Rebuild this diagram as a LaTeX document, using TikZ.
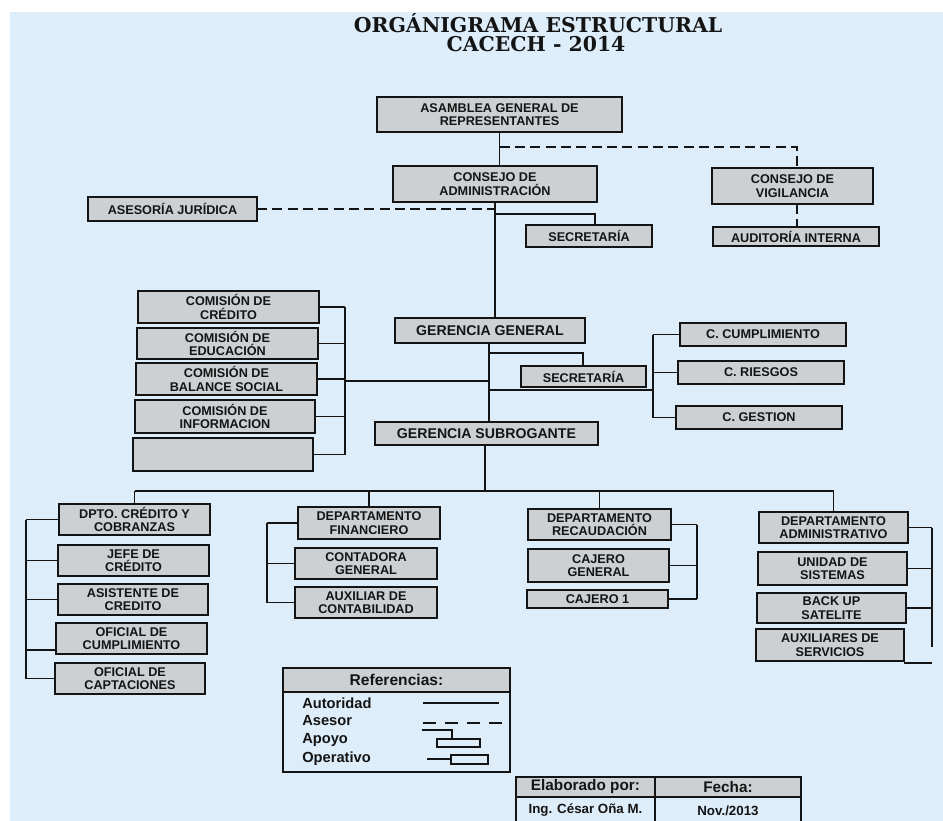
\documentclass[tikz,border=0pt]{standalone}
\usepackage{fontspec}
\setmainfont{Liberation Sans}
\newfontfamily\titlefont{DejaVu Serif}
\usetikzlibrary{calc}
\definecolor{bg}{RGB}{222,237,250}
\definecolor{boxgray}{RGB}{204,208,211}
\definecolor{ink}{RGB}{20,20,20}
\tikzset{
 box/.style={draw=ink, line width=1.3pt, fill=boxgray, inner sep=0pt, outer sep=0pt, align=center, text=ink, font=\fontsize{9.5}{10}\selectfont\bfseries},
 bigbox/.style={box, font=\fontsize{10.6}{11}\selectfont\bfseries},
 plainbox/.style={box, fill=none},
 auth/.style={draw=ink, line width=1.3pt},
 asesor/.style={draw=ink, line width=1.3pt, dash pattern=on 7.5pt off 4pt},
 legtext/.style={anchor=west, inner sep=0pt, text=ink, font=\fontsize{11}{12}\selectfont\bfseries},
 titletext/.style={anchor=base, inner sep=0pt, text=ink, font=\titlefont\bfseries\fontsize{15.3}{16}\selectfont},
}
\newcommand\bx[7][box]{\node[#1, minimum width={(#5-#3)*0.75pt}, minimum height={(#6-#4)*0.75pt}] (#2) at ({(#3+#5)/2},{(#4+#6)/2}) {#7};}
\begin{document}
\begin{tikzpicture}[x=0.75pt,y=-0.75pt]
\useasboundingbox (0,0) rectangle (943,821);
\fill[white] (0,0) rectangle (943,821);
\fill[bg] (10,12) rectangle (943,821);

% title
\node[titletext] (t1) at (538,32) {ORGÁNIGRAMA ESTRUCTURAL};
\node[titletext] (t2) at (536,51) {CACECH - 2014};

% top boxes
\bx{asam}{377}{97}{622}{132}{ASAMBLEA GENERAL DE\\REPRESENTANTES}
\bx{cadm}{393}{166}{597}{202}{CONSEJO DE\\ADMINISTRACIÓN}
\bx{cvig}{712}{168}{873}{204}{CONSEJO DE\\VIGILANCIA}
\bx{audi}{713}{227}{879}{246}{AUDITORÍA INTERNA}
\bx{asj}{88}{197}{257}{221}{ASESORÍA JURÍDICA}
\bx{sec1}{526}{225}{652}{247}{SECRETARÍA}
\bx[bigbox]{gg}{395}{318}{585}{343}{GERENCIA GENERAL}
\bx{sec2}{521}{366}{646}{387}{SECRETARÍA}
\bx{cc}{680}{323}{846}{346}{C. CUMPLIMIENTO}
\bx{cr}{678}{361}{844}{384}{C. RIESGOS}
\bx{cg}{676}{406}{842}{429}{C. GESTION}
\bx{k1}{138}{291}{319}{323}{COMISIÓN DE\\CRÉDITO}
\bx{k2}{137}{328}{318}{359}{COMISIÓN DE\\EDUCACIÓN}
\bx{k3}{136}{363}{317}{395}{COMISIÓN DE\\BALANCE SOCIAL}
\bx{k4}{135}{400}{315}{433}{COMISIÓN DE\\INFORMACION}
\bx{k5}{133}{438}{313}{471}{}
\bx[bigbox]{gs}{375}{422}{598}{445}{GERENCIA SUBROGANTE}

% departments
\bx{d1}{59}{504}{210}{535}{DPTO. CRÉDITO Y\\COBRANZAS}
\bx{d1a}{58}{545}{209}{576}{JEFE DE\\CRÉDITO}
\bx{d1b}{58}{584}{208}{615}{ASISTENTE DE\\CREDITO}
\bx{d1c}{56}{623}{207}{654}{OFICIAL DE\\CUMPLIMIENTO}
\bx{d1d}{55}{663}{205}{694}{OFICIAL DE\\CAPTACIONES}
\bx{d2}{298}{507}{440}{539}{DEPARTAMENTO\\FINANCIERO}
\bx{d2a}{295}{548}{437}{579}{CONTADORA\\GENERAL}
\bx{d2b}{295}{587}{437}{618}{AUXILIAR DE\\CONTABILIDAD}
\bx{d3}{528}{509}{671}{540}{DEPARTAMENTO\\RECAUDACIÓN}
\bx{d3a}{528}{549}{669}{582}{CAJERO\\GENERAL}
\bx{d3b}{527}{590}{668}{608}{CAJERO 1}
\bx{d4}{759}{512}{908}{543}{DEPARTAMENTO\\ADMINISTRATIVO}
\bx{d4a}{758}{552}{907}{585}{UNIDAD DE\\SISTEMAS}
\bx{d4b}{757}{593}{906}{623}{BACK UP\\SATELITE}
\bx{d4c}{756}{629}{904}{661}{AUXILIARES DE\\SERVICIOS}

% connectors top
\coordinate (dv) at (797,147);
\draw[auth] (asam.south) -- (asam.south |- cadm.north);
\draw[asesor] (asam.south |- dv) -- (dv) -- (dv |- cvig.north);
\draw[asesor] (dv |- cvig.south) -- (dv |- audi.north);
\draw[auth] (cadm.south) -- (cadm.south |- gg.north);
\draw[asesor] (asj.east) -- (asj.east -| cadm.south);
\coordinate (s1) at (595,214);
\draw[auth] (cadm.south |- s1) -- (s1) -- (s1 |- sec1.north);

% middle
\coordinate (sp3) at (489,0);
\draw[auth] (sp3 |- gg.south) -- (sp3 |- gs.north);
\coordinate (s2) at (583,353);
\draw[auth] (sp3 |- s2) -- (s2) -- (s2 |- sec2.north);
\coordinate (bc) at (653,390);
\draw[auth] (sp3 |- bc) -- (bc);
\draw[auth] (cc.west -| bc) -- (cg.west -| bc);
\foreach \n in {cc,cr,cg} \draw[auth] (\n.west) -- (\n.west -| bc);
\coordinate (bk) at (345,381);
\draw[auth] (sp3 |- bk) -- (bk);
\draw[auth] (k1.east -| bk) -- (k5.east -| bk);
\foreach \n in {k1,k2,k3,k4,k5} \draw[auth] (\n.east) -- (\n.east -| bk);

% lower
\coordinate (hl) at (485,491);
\draw[auth] (hl |- gs.south) -- (hl);
\draw[auth] (d1.north |- hl) -- (d4.north |- hl);
\foreach \n in {d1,d2,d3,d4} \draw[auth] (\n.north) -- (\n.north |- hl);

\coordinate (b1) at (26,0);
\coordinate (c1c) at ([yshift=-8.6pt]d1c.west);
\draw[auth] (b1 |- d1.west) -- (b1 |- d1d.west);
\foreach \n in {d1,d1a,d1b,d1d} \draw[auth] (\n.west) -- (\n.west -| b1);
\draw[auth] (c1c) -- (c1c -| b1);

\coordinate (b2) at (267,0);
\draw[auth] (b2 |- d2.west) -- (b2 |- d2b.west);
\foreach \n in {d2,d2a,d2b} \draw[auth] (\n.west) -- (\n.west -| b2);

\coordinate (b3) at (697,0);
\draw[auth] (b3 |- d3.east) -- (b3 |- d3b.east);
\foreach \n in {d3,d3a,d3b} \draw[auth] (\n.east) -- (\n.east -| b3);

\coordinate (b4) at (932,647);
\draw[auth] (b4 |- d4.east) -- (b4);
\foreach \n in {d4,d4a,d4b} \draw[auth] (\n.east) -- (\n.east -| b4);
\coordinate (c4c) at ([yshift=-1.5pt]d4c.south east);
\draw[auth] (c4c) -- (c4c -| b4);

% legend
\bx[box, font=\fontsize{11.7}{13}\selectfont\bfseries]{legh}{283}{668}{510}{692}{Referencias:}
\bx[plainbox]{leg}{283}{668}{510}{772}{}
\node[legtext] (la) at (302,703) {Autoridad};
\node[legtext] (lb) at (302,721) {Asesor};
\node[legtext] (lc) at (302,740) {Apoyo};
\node[legtext] (ld) at (302,759) {Operativo};
\draw[auth] (423,703) -- (499,703);
\draw[auth, dash pattern=on 10pt off 6.5pt] (423,723) -- (502,723);
\draw[draw=ink, line width=1.1pt] (422,730) -- (452,730) -- (452,739);
\draw[draw=ink, line width=1.1pt] (437,739) rectangle (480,747);
\draw[draw=ink, line width=1.1pt] (427,759) -- (451,759);
\draw[draw=ink, line width=1.1pt] (451,755) rectangle (488,764);

% footer
\bx[box, line width=1.1pt, font=\fontsize{11.5}{13}\selectfont\bfseries]{fe1}{516}{777}{655}{797}{Elaborado por:}
\bx[box, line width=1.1pt, font=\fontsize{11.5}{13}\selectfont\bfseries]{fe2}{655}{777}{801}{797}{Fecha:}
\bx[plainbox, line width=1.1pt, font=\fontsize{10}{12}\selectfont\bfseries]{fv1}{516}{797}{655}{824}{Ing. César Oña M.}
\bx[plainbox, line width=1.1pt, font=\fontsize{10}{12}\selectfont\bfseries]{fv2}{655}{797}{801}{824}{Nov./2013}
\end{tikzpicture}
\end{document}
